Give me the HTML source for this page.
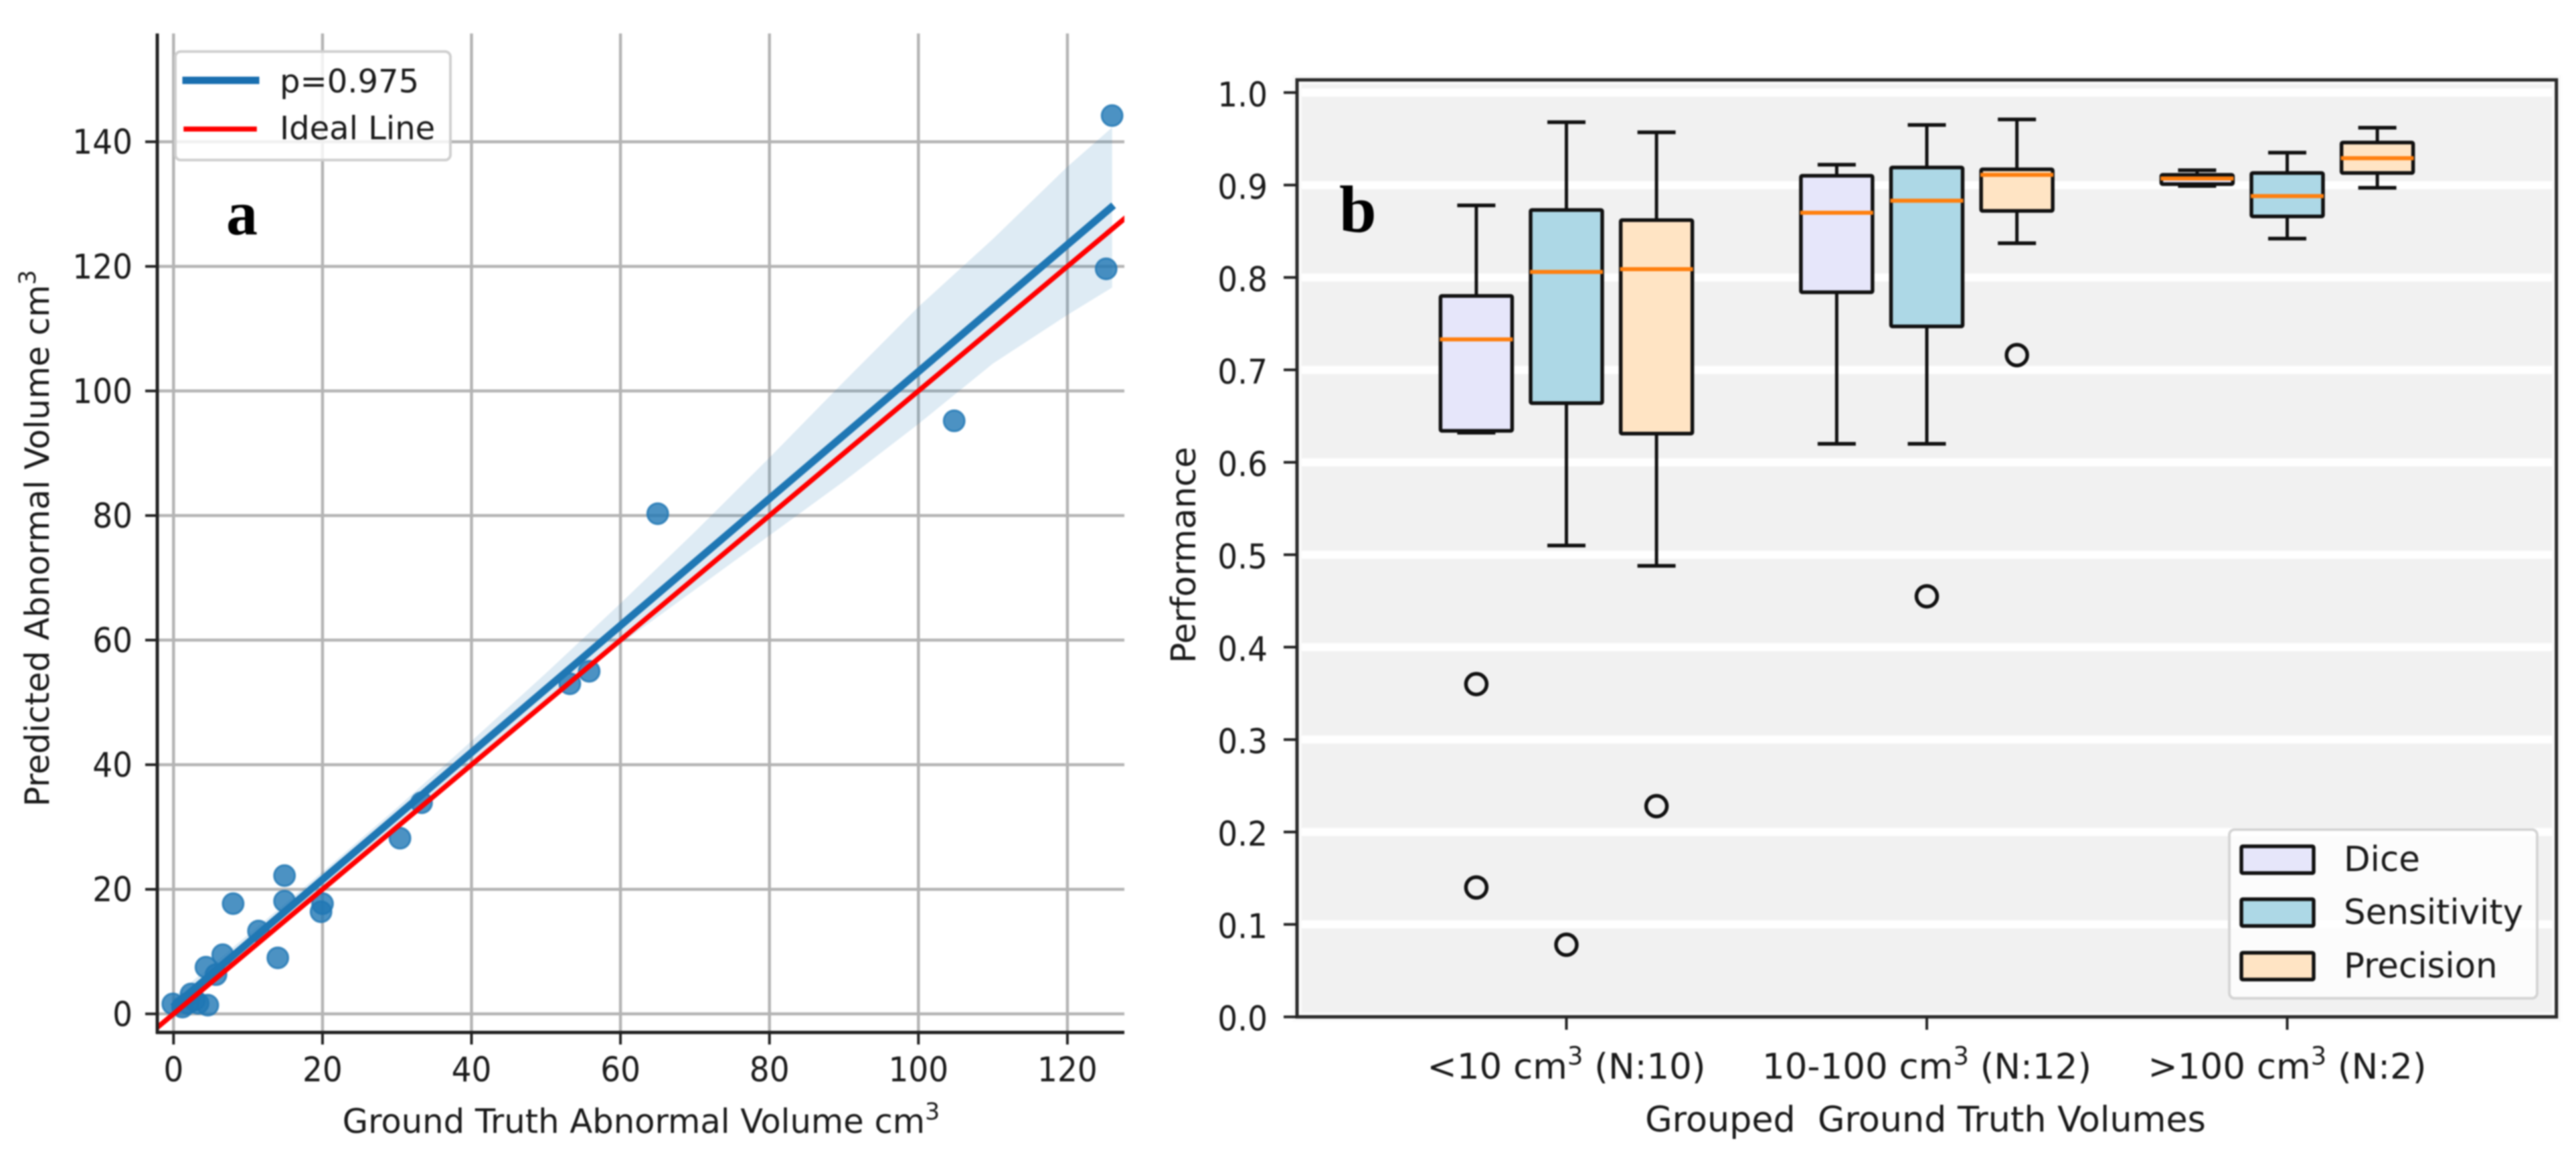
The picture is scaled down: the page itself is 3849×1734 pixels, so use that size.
<!DOCTYPE html>
<html lang="en">
<head>
<meta charset="utf-8">
<title>Abnormal volume regression and performance box plots</title>
<style>
html,body{margin:0;padding:0;background:#fff;}
svg{display:block;filter:blur(1px);}
text{font-family:"DejaVu Sans","Liberation Sans",sans-serif;fill:#1a1a1a;white-space:pre;}
.panel-letter{font-family:"Liberation Serif",serif;font-weight:bold;fill:#000;}
</style>
</head>
<body>
<svg id="figure" xmlns="http://www.w3.org/2000/svg" width="3849" height="1734" viewBox="0 0 3849 1734">
  <rect width="3849" height="1734" fill="#fff"/>
  <defs>
    <clipPath id="clipA"><rect x="235" y="50" width="1445" height="1492"/></clipPath>
  </defs>

  <g id="panelA">
    <g id="gridA"></g>
    <g id="marksA" clip-path="url(#clipA)"></g>
    <line x1="235" y1="50" x2="235" y2="1544" stroke="#222" stroke-width="5"/>
    <line x1="233" y1="1542" x2="1680" y2="1542" stroke="#222" stroke-width="5"/>
    <g id="ticksA"></g>
    <text transform="translate(73,804) rotate(-90)" text-anchor="middle" font-size="49.6">Predicted Abnormal Volume cm<tspan font-size="35" dy="-20">3</tspan></text>
    <text x="958" y="1692" text-anchor="middle" font-size="49.6">Ground Truth Abnormal Volume cm<tspan font-size="35" dy="-20">3</tspan></text>
    <g>
      <rect x="262" y="77" width="411" height="162" rx="8" fill="#fff" fill-opacity="0.8" stroke="#cfcfcf" stroke-width="4"/>
      <line x1="278" y1="120" x2="382" y2="120" stroke="#1a6fb0" stroke-width="11" stroke-linecap="square"/>
      <text x="418" y="138" font-size="48">p=0.975</text>
      <line x1="278" y1="192.7" x2="380" y2="192.7" stroke="#ff0000" stroke-width="7.5" stroke-linecap="square"/>
      <text x="418" y="208" font-size="48">Ideal Line</text>
    </g>
    <text class="panel-letter" x="338" y="350" font-size="94">a</text>
  </g>

  <g id="panelB">
    <rect x="1938" y="119" width="1882" height="1400" fill="#f1f1f1"/>
    <rect x="1938" y="119" width="1882" height="1400" fill="none" stroke="#fafafa" stroke-width="14"/>
    <g id="gridB"></g>
    <g id="marksB"></g>
    <rect x="1938" y="119.3" width="1881.7" height="1399.4" fill="none" stroke="#2a2a2a" stroke-width="5"/>
    <g id="ticksB"></g>
    <text transform="translate(1786,829) rotate(-90)" text-anchor="middle" font-size="51">Performance</text>
    <text x="2877" y="1690" text-anchor="middle" font-size="52.3">Grouped  Ground Truth Volumes</text>
    <g>
      <rect x="3331" y="1239" width="460" height="252" rx="8" fill="#fff" fill-opacity="0.8" stroke="#d4d4d4" stroke-width="4"/>
      <rect x="3349" y="1264" width="108" height="40" rx="2" fill="#e6e6fa" stroke="#111" stroke-width="5.5"/>
      <text x="3502" y="1301" font-size="51.5">Dice</text>
      <rect x="3349" y="1343" width="108" height="40" rx="2" fill="#add8e6" stroke="#111" stroke-width="5.5"/>
      <text x="3502" y="1380" font-size="51.5">Sensitivity</text>
      <rect x="3349" y="1423" width="108" height="40" rx="2" fill="#ffe4c4" stroke="#111" stroke-width="5.5"/>
      <text x="3502" y="1460" font-size="51.5">Precision</text>
    </g>
    <text class="panel-letter" x="2001" y="346" font-size="100">b</text>
  </g>
</svg>

<script>
// ---- Panel a data ----
const xTicksA = [0, 20, 40, 60, 80, 100, 120];
const yTicksA = [0, 20, 40, 60, 80, 100, 120, 140];
const groundTruth = [-0.1, 1.2, 1.9, 2.35, 2.8, 3.3, 4.6, 4.35, 5.7, 6.6, 8, 11.4, 14, 14.9, 14.9, 19.8, 20, 30.4, 33.3, 53.2, 55.8, 65, 104.8, 125.2, 126];
const predicted = [1.6, 1.1, 1.7, 3.2, 2.2, 1.7, 1.4, 7.5, 6.3, 9.5, 17.7, 13.3, 9, 22.2, 18.1, 16.4, 17.7, 28.2, 33.9, 53, 55, 80.3, 95.2, 119.6, 144.2];
const fitX = [-0.1, 126.2];
const fitY = [1.1, 129.8];
const idealX = [-3, 128];
const idealY = [-3, 128];
const bandX = [-0.1, 10, 20, 30, 40, 50, 60, 70, 80, 90, 100, 110, 120, 126];
const bandUpper = [2.6, 12.7, 22.8, 33.1, 43.8, 54.7, 65.9, 77.4, 89.3, 101.5, 113.5, 124.4, 136, 142.3];
const bandLower = [-0.9, 9.9, 20.3, 30.5, 40.5, 50.2, 59.4, 68.1, 76.8, 85.5, 94.7, 104.4, 112.2, 116.6];

// ---- Panel b data ----
const categories = ['<10 cm³ (N:10)', '10-100 cm³ (N:12)', '>100 cm³ (N:2)'];
const yTicksB = ['0.0', '0.1', '0.2', '0.3', '0.4', '0.5', '0.6', '0.7', '0.8', '0.9', '1.0'];
const diceLow = [0.632, 0.62, 0.899];
const diceQ1 = [0.634, 0.784, 0.901];
const diceMedian = [0.733, 0.87, 0.907];
const diceQ3 = [0.78, 0.91, 0.911];
const diceHigh = [0.878, 0.922, 0.916];
const diceOutliers = [[0.36, 0.14], [], []];
const sensLow = [0.51, 0.62, 0.842];
const sensQ1 = [0.664, 0.747, 0.866];
const sensMedian = [0.806, 0.883, 0.888];
const sensQ3 = [0.873, 0.919, 0.913];
const sensHigh = [0.968, 0.965, 0.935];
const sensOutliers = [[0.078], [0.455], []];
const precLow = [0.488, 0.837, 0.897];
const precQ1 = [0.631, 0.872, 0.913];
const precMedian = [0.809, 0.911, 0.929];
const precQ3 = [0.862, 0.917, 0.946];
const precHigh = [0.957, 0.971, 0.962];
const precOutliers = [[0.228], [0.716], []];

// ---- Axis functions ----
function xA(v) { return 259.3 + v * 11.13; }
function yA(v) { return 1514.3 - v * 9.304; }
function xB(pos) { return 2879 + (pos - 1) * 538.5; }
function yB(v) { return 1518.7 - v * 1380.4; }

const NS = 'http://www.w3.org/2000/svg';
function mk(tag, attrs, parent) {
  const el = document.createElementNS(NS, tag);
  for (const k in attrs) el.setAttribute(k, attrs[k]);
  parent.appendChild(el);
  return el;
}
const gridA = document.getElementById('gridA');
const marksA = document.getElementById('marksA');
const ticksA = document.getElementById('ticksA');
const gridB = document.getElementById('gridB');
const marksB = document.getElementById('marksB');
const ticksB = document.getElementById('ticksB');
const TICK_STRETCH = ' scale(1,1.08)';

// Panel a grid + ticks
xTicksA.forEach(function (t) {
  const g = mk('line', {x1: xA(t), x2: xA(t), y1: 50, y2: 1542, stroke: '#b4b4b4', 'stroke-width': 4.5}, gridA);
  
  
  const m = mk('line', {x1: xA(t), x2: xA(t), y1: 1542, y2: 1560, stroke: '#222', 'stroke-width': 4}, ticksA);
  
  
  const l = mk('text', {transform: 'translate(' + xA(t) + ',1615)' + TICK_STRETCH, 'text-anchor': 'middle', 'font-size': 47}, ticksA);
  l.textContent = String(t);
  
  
});
yTicksA.forEach(function (t) {
  const g = mk('line', {x1: 235, x2: 1680, y1: yA(t), y2: yA(t), stroke: '#b4b4b4', 'stroke-width': 4.5}, gridA);
  
  
  const m = mk('line', {x1: 217, x2: 235, y1: yA(t), y2: yA(t), stroke: '#222', 'stroke-width': 4}, ticksA);
  
  
  const l = mk('text', {transform: 'translate(198,' + (yA(t) + 18) + ')' + TICK_STRETCH, 'text-anchor': 'end', 'font-size': 47}, ticksA);
  l.textContent = String(t);
  
  
});

// Panel a confidence band
const upperPts = bandX.map(function (v, i) { return xA(v) + ',' + yA(bandUpper[i]); });
const lowerPts = bandX.map(function (v, i) { return xA(v) + ',' + yA(bandLower[i]); }).reverse();
const band = mk('polygon', {points: upperPts.concat(lowerPts).join(' '), fill: '#1f77b4', 'fill-opacity': 0.15}, marksA);



// Panel a scatter points
groundTruth.forEach(function (v, i) {
  const c = mk('circle', {cx: xA(v), cy: yA(predicted[i]), r: 15.5, fill: '#1f77b4', 'fill-opacity': 0.8, stroke: '#1f77b4', 'stroke-opacity': 0.8, 'stroke-width': 3}, marksA);
  
  
});

// Panel a lines
const fitLine = mk('line', {x1: xA(fitX[0]), y1: yA(fitY[0]), x2: xA(fitX[1]), y2: yA(fitY[1]), stroke: '#1f77b4', 'stroke-width': 11}, marksA);


const idealLine = mk('line', {x1: xA(idealX[0]), y1: yA(idealY[0]), x2: xA(idealX[1]), y2: yA(idealY[1]), stroke: '#ff0000', 'stroke-width': 7.5}, marksA);



// Panel b grid + y ticks
yTicksB.forEach(function (t) {
  const v = parseFloat(t);
  if (v > 0) {
    const g = mk('line', {x1: 1945, x2: 3813, y1: yB(v), y2: yB(v), stroke: '#ffffff', 'stroke-width': 12}, gridB);
    
    
  }
  const m = mk('line', {x1: 1918, x2: 1938, y1: yB(v), y2: yB(v), stroke: '#222', 'stroke-width': 4}, ticksB);
  
  
  const l = mk('text', {transform: 'translate(1894,' + (yB(v) + 20.5) + ')' + TICK_STRETCH, 'text-anchor': 'end', 'font-size': 47}, ticksB);
  l.textContent = t;
  
  
});

// Panel b category ticks
categories.forEach(function (c, i) {
  const m = mk('line', {x1: xB(i), x2: xB(i), y1: 1519, y2: 1538, stroke: '#222', 'stroke-width': 4}, ticksB);
  
  
  const l = mk('text', {x: xB(i), y: 1611, 'text-anchor': 'middle', 'font-size': 53}, ticksB);
  
  
  const parts = c.split('³');
  const a = mk('tspan', {}, l);
  a.textContent = parts[0];
  const s = mk('tspan', {'font-size': 37, dy: -21}, l);
  s.textContent = '3';
  const b = mk('tspan', {dy: 21}, l);
  b.textContent = parts[1];
});

// Panel b boxes
const seriesNames = ['dice', 'sensitivity', 'precision'];
const seriesFills = ['#e6e6fa', '#add8e6', '#ffe4c4'];
const seriesLow = [diceLow, sensLow, precLow];
const seriesQ1 = [diceQ1, sensQ1, precQ1];
const seriesMedian = [diceMedian, sensMedian, precMedian];
const seriesQ3 = [diceQ3, sensQ3, precQ3];
const seriesHigh = [diceHigh, sensHigh, precHigh];
const seriesOutliers = [diceOutliers, sensOutliers, precOutliers];

seriesNames.forEach(function (name, s) {
  categories.forEach(function (c, i) {
    const cx = xB(i + (s - 1) * 0.25);
    const boxW = 107;
    const capW = 57;
    const whiskHi = mk('line', {x1: cx, x2: cx, y1: yB(seriesHigh[s][i]), y2: yB(seriesQ3[s][i]), stroke: '#111', 'stroke-width': 5}, marksB);
    
    
    const whiskLo = mk('line', {x1: cx, x2: cx, y1: yB(seriesQ1[s][i]), y2: yB(seriesLow[s][i]), stroke: '#111', 'stroke-width': 5}, marksB);
    
    
    const capHi = mk('line', {x1: cx - capW / 2, x2: cx + capW / 2, y1: yB(seriesHigh[s][i]), y2: yB(seriesHigh[s][i]), stroke: '#111', 'stroke-width': 5.5}, marksB);
    
    
    const capLo = mk('line', {x1: cx - capW / 2, x2: cx + capW / 2, y1: yB(seriesLow[s][i]), y2: yB(seriesLow[s][i]), stroke: '#111', 'stroke-width': 5.5}, marksB);
    
    
    const box = mk('rect', {x: cx - boxW / 2, y: yB(seriesQ3[s][i]), width: boxW, height: yB(seriesQ1[s][i]) - yB(seriesQ3[s][i]), rx: 2, fill: seriesFills[s], stroke: '#111', 'stroke-width': 5.5}, marksB);
    
    
    const med = mk('line', {x1: cx - boxW / 2 - 1, x2: cx + boxW / 2 + 1, y1: yB(seriesMedian[s][i]), y2: yB(seriesMedian[s][i]), stroke: '#ff7f0e', 'stroke-width': 6}, marksB);
    
    
    seriesOutliers[s][i].forEach(function (v) {
      const o = mk('circle', {cx: cx, cy: yB(v), r: 15.5, fill: 'none', stroke: '#111', 'stroke-width': 5.5}, marksB);
      
      
    });
  });
});
</script>
</body>
</html>
